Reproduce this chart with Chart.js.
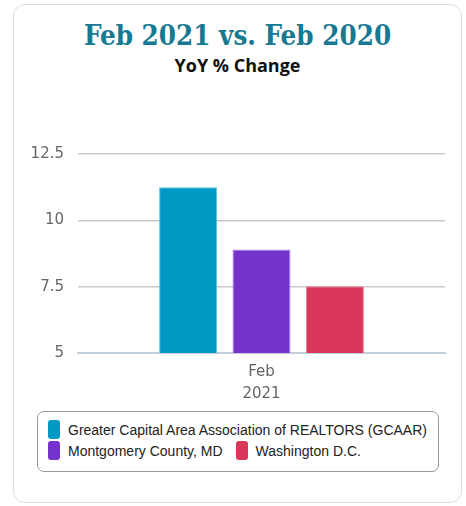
<!DOCTYPE html>
<html>
<head>
<meta charset="utf-8">
<script src="https://cdn.jsdelivr.net/npm/chart.js@4"></script>
<style>
body{margin:0;background:#fff;width:466px;height:506px;overflow:hidden;position:relative;font-family:"Liberation Sans",Arial,sans-serif}
.card{position:absolute;left:13px;top:4px;width:447px;height:497px;border:1px solid #dcdcdc;border-radius:12px}
h1{position:absolute;left:13px;top:17px;width:449px;margin:0;text-align:center;font-family:"DejaVu Serif",serif;font-stretch:condensed;font-weight:bold;font-size:27.5px;color:#177a92;line-height:36px}
h2{position:absolute;left:13px;top:53px;width:449px;margin:0;text-align:center;font-family:"Open Sans",sans-serif;font-weight:bold;font-size:18px;color:#111;line-height:24px}
#wrap{position:absolute;left:0;top:120px;width:466px;height:290px}
#legend{position:absolute;left:37px;top:411px;width:382px;height:43px;border:1.5px solid #999;border-radius:7px;padding:7px 8px 9px 10px;display:flex;flex-wrap:wrap;align-content:flex-start}
.item{display:flex;align-items:center;height:21px;margin-right:13px;font-size:14px;color:#222;white-space:nowrap}
.sw{width:12px;height:19px;border-radius:3px;margin-right:8px}
</style>
</head>
<body>
<div class="card"></div>
<h1>Feb 2021 vs. Feb 2020</h1>
<h2>YoY % Change</h2>
<div id="wrap"><canvas id="myChart"></canvas></div>
<div id="legend"></div>
<script>
var labels=[['Feb','2021']]
var seriesNames=['Greater Capital Area Association of REALTORS (GCAAR)','Montgomery County, MD','Washington D.C.']
var gcaar=[11.25]
var montgomery=[8.9]
var dc=[7.52]
var colors=['#0099c6','#7434cc','#d8375a']
var borders=['#5cc3e0','#a77fe0','#e8819a']
var values=[gcaar,montgomery,dc]

var datasets=[]
for(var i=0;i<values.length;i++){
    datasets.push({
        label:seriesNames[i],
        data:values[i],
        backgroundColor:colors[i],
        borderColor:borders[i],
        borderWidth:1,
        borderSkipped:false
    })
}

var ctx=document.getElementById('myChart')
var myChart=new Chart(ctx,{
    type:'bar',
    data:{labels:labels,datasets:datasets},
    options:{
        responsive:true,
        maintainAspectRatio:false,
        animation:false,
        layout:{padding:{top:34,right:21,left:0,bottom:0}},
        plugins:{legend:{display:false},tooltip:{enabled:false}},
        datasets:{bar:{categoryPercentage:0.6,barPercentage:0.79}},
        scales:{
            x:{
                afterFit:function(s){s.height=57},
                grid:{display:false},
                border:{color:'#c3cedb',width:2},
                ticks:{color:'#666',font:{family:'DejaVu Sans',size:15,lineHeight:1.45},padding:0}
            },
            y:{
                min:5,max:12.5,
                afterFit:function(s){s.width=78},
                border:{display:false},
                grid:{color:function(c){return c.tick&&c.tick.value===5?'rgba(0,0,0,0)':'#c9c9c9'},drawTicks:false,lineWidth:1.5},
                ticks:{stepSize:2.5,color:'#666',font:{family:'DejaVu Sans',size:15},padding:14}
            }
        }
    }
})

var lg=document.getElementById('legend')
for(var j=0;j<seriesNames.length;j++){
    var it=document.createElement('div')
    it.className='item'
    it.innerHTML='<span class="sw" style="background:'+colors[j]+'"></span>'+seriesNames[j]
    lg.appendChild(it)
}
</script>
</body>
</html>
